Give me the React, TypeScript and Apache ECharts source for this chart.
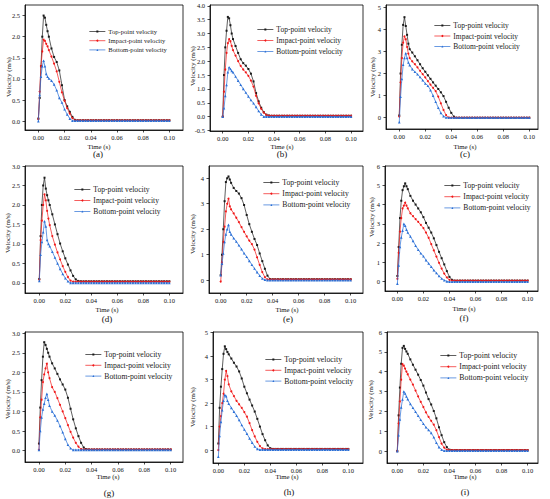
import React, { useEffect, useRef } from 'react';
import * as echarts from 'echarts';

// Shared time grid (s)
const TIMES = [0, 0.001, 0.002, 0.003, 0.004, 0.005, 0.006, 0.007, 0.008,
  0.010, 0.012, 0.014, 0.016, 0.018, 0.020, 0.022, 0.024, 0.026, 0.028, 0.030,
  0.032, 0.034, 0.036, 0.038, 0.040, 0.042, 0.044, 0.046, 0.048, 0.050,
  0.052, 0.054, 0.056, 0.058, 0.060, 0.062, 0.064, 0.066, 0.068, 0.070,
  0.072, 0.074, 0.076, 0.078, 0.080, 0.082, 0.084, 0.086, 0.088, 0.090,
  0.092, 0.094, 0.096, 0.098, 0.100];

const NAMES = ['Top-point velocity', 'Impact-point velocity', 'Bottom-point velocity'];
const PANEL_LABELS = ['(a)', '(b)', '(c)', '(d)', '(e)', '(f)', '(g)', '(h)', '(i)'];
const X_TICKS = [0, 0.02, 0.04, 0.06, 0.08, 0.1];

// Velocity values (m/s); after the listed values each curve stays at its flat tail level
const topA = [0.06, 0.55, 1.3, 2.0, 2.5, 2.45, 2.28, 2.13, 2.0, 1.72, 1.52, 1.4, 1.2, 0.85, 0.5, 0.35, 0.22, 0.1, 0.03];
const impactA = [0.05, 0.7, 1.3, 1.65, 1.93, 1.9, 1.83, 1.77, 1.68, 1.53, 1.36, 1.18, 0.93, 0.68, 0.48, 0.31, 0.18, 0.07, 0.02];
const bottomA = [0.0, 0.62, 1.05, 1.3, 1.43, 1.3, 1.12, 1.05, 1.01, 0.96, 0.87, 0.73, 0.55, 0.44, 0.28, 0.16, 0.06, 0.01];
const tailA = [0.02, 0.02, 0.01];

const topB = [0, 1.5, 2.5, 3.1, 3.6, 3.55, 3.3, 3.0, 2.8, 2.55, 2.3, 2.07, 1.93, 1.84, 1.72, 1.55, 1.27, 0.85, 0.55, 0.32, 0.16, 0.07, 0.04];
const impactB = [0, 0.9, 1.7, 2.3, 2.65, 2.8, 2.72, 2.55, 2.4, 2.2, 2.0, 1.83, 1.7, 1.6, 1.47, 1.3, 1.08, 0.75, 0.48, 0.28, 0.14, 0.06, 0.03];
const bottomB = [0, 0.3, 0.75, 1.14, 1.6, 1.78, 1.72, 1.65, 1.6, 1.45, 1.3, 1.15, 1.0, 0.87, 0.73, 0.6, 0.48, 0.35, 0.2, 0.08, 0.0];
const tailB = [0.03, 0.03, 0.0];

const topC = [0.1, 2.0, 3.3, 4.2, 4.55, 4.15, 3.75, 3.35, 3.1, 2.95, 2.78, 2.6, 2.42, 2.24, 2.08, 1.92, 1.76, 1.6, 1.45, 1.3, 1.15, 0.98, 0.72, 0.45, 0.22, 0.05, 0.0];
const impactC = [0.05, 1.6, 2.7, 3.4, 3.68, 3.55, 3.2, 2.9, 2.7, 2.55, 2.42, 2.28, 2.12, 1.97, 1.82, 1.66, 1.5, 1.35, 1.2, 0.95, 0.65, 0.35, 0.12, 0.01];
const bottomC = [-0.2, 0.95, 1.75, 2.4, 2.7, 2.92, 2.7, 2.5, 2.38, 2.2, 2.08, 1.97, 1.84, 1.7, 1.55, 1.45, 1.25, 1.0, 0.72, 0.45, 0.22, 0.07, 0.01];
const tailC = [0.0, 0.0, 0.0];

const topD = [0.1, 1.2, 2.0, 2.5, 2.7, 2.42, 2.25, 2.12, 2.0, 1.76, 1.5, 1.25, 1.01, 0.81, 0.63, 0.47, 0.32, 0.18, 0.09, 0.05];
const impactD = [0.08, 1.1, 1.6, 2.0, 2.27, 2.12, 1.85, 1.65, 1.48, 1.2, 0.98, 0.78, 0.6, 0.43, 0.28, 0.15, 0.06, 0.03];
const bottomD = [0.05, 0.72, 1.05, 1.3, 1.58, 1.45, 1.1, 1.0, 0.94, 0.8, 0.65, 0.5, 0.36, 0.23, 0.12, 0.04, 0.0];
const tailD = [0.04, 0.03, 0.0];

const topE = [0.2, 1.0, 2.0, 3.1, 3.85, 4.0, 4.07, 3.95, 3.82, 3.62, 3.5, 3.4, 3.22, 2.95, 2.56, 2.2, 1.9, 1.62, 1.38, 1.05, 0.75, 0.45, 0.18, 0.05];
const impactE = [-0.05, 0.7, 1.5, 2.1, 2.7, 3.0, 3.2, 2.9, 2.78, 2.62, 2.45, 2.28, 2.08, 1.9, 1.72, 1.55, 1.42, 1.2, 0.9, 0.6, 0.32, 0.12, 0.03];
const bottomE = [0.2, 0.65, 1.05, 1.5, 1.8, 2.0, 2.17, 1.9, 1.8, 1.65, 1.52, 1.37, 1.22, 1.06, 0.92, 0.76, 0.61, 0.46, 0.32, 0.18, 0.07, 0.02];
const tailE = [0.04, 0.03, 0.0];

const topF = [0.3, 1.8, 3.3, 4.2, 4.75, 4.95, 5.1, 4.95, 4.8, 4.45, 4.2, 4.0, 3.8, 3.6, 3.35, 3.05, 2.8, 2.55, 2.25, 1.9, 1.55, 1.22, 0.9, 0.55, 0.25, 0.1, 0.06];
const impactF = [0.15, 1.5, 2.6, 3.3, 3.8, 3.95, 4.1, 3.95, 3.8, 3.55, 3.4, 3.25, 3.1, 2.95, 2.78, 2.55, 2.28, 1.95, 1.62, 1.3, 0.98, 0.68, 0.42, 0.22, 0.1, 0.06];
const bottomF = [-0.1, 0.85, 1.8, 2.3, 2.65, 3.0, 2.9, 2.7, 2.55, 2.35, 2.12, 1.87, 1.66, 1.48, 1.32, 1.12, 0.95, 0.78, 0.6, 0.45, 0.3, 0.17, 0.08, 0.02, 0.0];
const tailF = [0.06, 0.06, 0.0];

const topG = [0.18, 1.1, 1.8, 2.4, 2.77, 2.7, 2.6, 2.5, 2.4, 2.23, 2.1, 1.96, 1.82, 1.69, 1.56, 1.35, 1.07, 0.8, 0.57, 0.37, 0.2, 0.08, 0.04];
const impactG = [0.02, 0.85, 1.3, 1.75, 1.95, 2.1, 2.22, 2.0, 1.85, 1.62, 1.5, 1.34, 1.17, 1.0, 0.83, 0.65, 0.48, 0.33, 0.2, 0.1, 0.04];
const bottomG = [0.02, 0.5, 0.85, 1.05, 1.2, 1.35, 1.45, 1.3, 1.15, 1.0, 0.9, 0.77, 0.63, 0.47, 0.3, 0.15, 0.06, 0.02];
const tailG = [0.03, 0.03, 0.02];

const topH = [0.28, 1.8, 2.7, 3.45, 4.1, 4.42, 4.3, 4.18, 4.08, 3.9, 3.72, 3.56, 3.35, 3.05, 2.7, 2.42, 2.15, 1.9, 1.64, 1.33, 1.0, 0.68, 0.42, 0.2, 0.08, 0.05];
const impactH = [0.0, 1.0, 1.45, 2.0, 2.4, 3.0, 3.37, 3.15, 2.8, 2.5, 2.3, 2.1, 1.95, 1.8, 1.62, 1.42, 1.15, 0.85, 0.58, 0.35, 0.17, 0.07, 0.04];
const bottomH = [-0.28, 0.6, 1.2, 1.7, 2.1, 2.35, 2.3, 2.1, 1.98, 1.8, 1.64, 1.47, 1.28, 1.07, 0.88, 0.7, 0.5, 0.32, 0.15, 0.05, 0.02];
const tailH = [0.05, 0.04, 0.02];

const topI = [0.0, 1.8, 3.2, 4.4, 5.2, 5.3, 5.15, 5.02, 4.9, 4.62, 4.35, 4.1, 3.85, 3.58, 3.3, 2.95, 2.62, 2.35, 2.02, 1.65, 1.2, 0.8, 0.45, 0.2, 0.07, 0.05];
const impactI = [0, 1.4, 2.5, 3.6, 4.38, 4.3, 4.15, 4.0, 3.87, 3.6, 3.35, 3.05, 2.75, 2.48, 2.22, 1.95, 1.72, 1.52, 1.33, 1.05, 0.7, 0.38, 0.17, 0.07, 0.05];
const bottomI = [0, 0.8, 1.6, 2.2, 2.6, 3.0, 2.9, 2.75, 2.62, 2.38, 2.18, 1.98, 1.78, 1.58, 1.38, 1.2, 1.07, 0.92, 0.7, 0.42, 0.2, 0.07, 0.02];
const tailI = [0.05, 0.05, 0.02];

const SERIES_VALUES = [
  [topA, impactA, bottomA, tailA], [topB, impactB, bottomB, tailB], [topC, impactC, bottomC, tailC],
  [topD, impactD, bottomD, tailD], [topE, impactE, bottomE, tailE], [topF, impactF, bottomF, tailF],
  [topG, impactG, bottomG, tailG], [topH, impactH, bottomH, tailH], [topI, impactI, bottomI, tailI],
];

// Y-axis tick labels per panel
const Y_TICKS = [
  [0, 0.5, 1, 1.5, 2, 2.5],
  [-0.5, 0, 0.5, 1, 1.5, 2, 2.5, 3, 3.5, 4],
  [0, 1, 2, 3, 4, 5],
  [0, 0.5, 1, 1.5, 2, 2.5, 3],
  [0, 1, 2, 3, 4],
  [0, 1, 2, 3, 4, 5, 6],
  [0, 0.5, 1, 1.5, 2, 2.5, 3],
  [0, 1, 2, 3, 4, 5],
  [0, 1, 2, 3, 4, 5, 6],
];
const Y_DECIMALS = [1, 1, 0, 1, 0, 0, 1, 0, 0];

// Layout (pixels) and axis ranges
const LAYOUT = [
  { box: [25, 5, 183, 130], x: [-0.0102, 0.1104], y: [-0.21, 2.75], leg: [89, 28, 6.6, 2.2], yt: [9, 77], xt: [99, 146], pl: [98, 154] },
  { box: [210, 5, 363, 131], x: [-0.0099, 0.1093], y: [-0.52, 4.03], leg: [257, 25.5, 7.5, 3], yt: [193, 66], xt: [282, 146], pl: [282, 154] },
  { box: [386, 5, 538, 129], x: [-0.0102, 0.1067], y: [-0.51, 5.1], leg: [434, 21.5, 7.5, 2.5], yt: [373, 77], xt: [465, 146], pl: [465, 154] },
  { box: [25, 166, 183, 293], x: [-0.011, 0.1105], y: [-0.26, 3.0], leg: [74, 185.5, 7.6, 3], yt: [8, 233], xt: [107, 309], pl: [107, 319] },
  { box: [209, 166, 363, 293], x: [-0.009, 0.1095], y: [-0.5, 4.48], leg: [263, 178.5, 7.7, 3.2], yt: [193, 234], xt: [287, 309], pl: [288, 319] },
  { box: [385, 166, 538, 291], x: [-0.0095, 0.108], y: [-0.48, 6.0], leg: [444, 181.5, 7.6, 3.2], yt: [372, 217], xt: [464, 308], pl: [464, 318] },
  { box: [25, 332, 183, 462], x: [-0.0106, 0.1094], y: [-0.29, 3.03], leg: [85, 350.5, 7.7, 2.8], yt: [8, 399], xt: [108, 476], pl: [109, 493] },
  { box: [213, 332, 363, 463], x: [-0.0041, 0.1113], y: [-0.55, 5.03], leg: [265, 355.5, 7.8, 2.8], yt: [193, 407], xt: [287, 476], pl: [289, 492] },
  { box: [387, 332, 538, 463], x: [-0.0079, 0.108], y: [-0.6, 6.0], leg: [440, 351.5, 7.8, 3.2], yt: [371, 400], xt: [465, 476], pl: [465, 492] },
];

const COLORS = ['#1a1a1a', '#f01818', '#2a6fd6'];
const SYMBOLS = ['rect', 'circle', 'triangle'];
const FONT = "'Liberation Serif', 'Times New Roman', serif";

export default function App() {
  const ref = useRef<HTMLDivElement>(null);
  useEffect(() => {
    if (!ref.current) return;
    const chart = echarts.init(ref.current, null, { renderer: 'svg' });
    const grid: any[] = [];
    const xAxis: any[] = [];
    const yAxis: any[] = [];
    const series: any[] = [];
    const legend: any[] = [];
    const graphic: any[] = [];

    LAYOUT.forEach((L, p) => {
      const [l, t, r, b] = L.box;
      grid.push({ left: l, top: t, width: r - l, height: b - t, show: true, borderColor: '#000', borderWidth: 0.8, backgroundColor: 'transparent' });
      xAxis.push({
        type: 'value', gridIndex: p, min: L.x[0], max: L.x[1],
        axisLine: { show: true, onZero: false, lineStyle: { color: '#000', width: 0.8 } },
        axisTick: { show: true, inside: false, length: 2.5, customValues: X_TICKS, lineStyle: { color: '#000', width: 0.7 } },
        axisLabel: { customValues: X_TICKS, margin: 4, fontSize: 6.5, fontFamily: FONT, color: '#111', formatter: (v: number) => v.toFixed(2) },
        splitLine: { show: false },
      });
      const dec = Y_DECIMALS[p];
      yAxis.push({
        type: 'value', gridIndex: p, min: L.y[0], max: L.y[1],
        axisLine: { show: true, onZero: false, lineStyle: { color: '#000', width: 0.8 } },
        axisTick: { show: true, inside: false, length: 2.5, customValues: Y_TICKS[p], lineStyle: { color: '#000', width: 0.7 } },
        axisLabel: { customValues: Y_TICKS[p], margin: 5, fontSize: 6.5, fontFamily: FONT, color: '#111', formatter: (v: number) => v.toFixed(dec) },
        splitLine: { show: false },
      });
      const vals = SERIES_VALUES[p];
      for (let s = 0; s < 3; s++) {
        const arr = vals[s] as number[];
        const tail = (vals[3] as number[])[s];
        series.push({
          type: 'line', name: NAMES[s], xAxisIndex: p, yAxisIndex: p,
          data: TIMES.map((tm, i) => [tm, i < arr.length ? arr[i] : tail]),
          symbol: SYMBOLS[s], symbolSize: s === 2 ? 2.6 : 2, showSymbol: true,
          lineStyle: { color: COLORS[s], width: 0.7 },
          itemStyle: { color: COLORS[s] },
          emphasis: { disabled: true }, z: 2 + s,
        });
      }
      legend.push({
        orient: 'vertical', left: L.leg[0], top: L.leg[1], padding: 0,
        itemWidth: 16, itemHeight: 2.5, itemGap: L.leg[3], selectedMode: false,
        lineStyle: { width: 0.7 },
        textStyle: { fontSize: L.leg[2], fontFamily: FONT, fontWeight: 'normal', color: '#222', padding: [0, 0, 0, -2] },
        data: NAMES,
      });
      graphic.push({
        type: 'text', x: L.yt[0], y: L.yt[1], rotation: Math.PI / 2,
        style: { text: 'Velocity (m/s)', font: `7px ${FONT}`, fill: '#111', textAlign: 'center', textVerticalAlign: 'middle' },
      });
      graphic.push({
        type: 'text', x: L.xt[0], y: L.xt[1],
        style: { text: 'Time (s)', font: `6.8px ${FONT}`, fill: '#111', textAlign: 'center', textVerticalAlign: 'middle' },
      });
      graphic.push({
        type: 'text', x: L.pl[0], y: L.pl[1],
        style: { text: PANEL_LABELS[p], font: `9px ${FONT}`, fill: '#111', textAlign: 'center', textVerticalAlign: 'middle' },
      });
    });

    chart.setOption({
      animation: false,
      backgroundColor: '#fff',
      grid, xAxis, yAxis, series, legend, graphic,
    });
    return () => chart.dispose();
  }, []);
  return <div ref={ref} style={{ position: 'absolute', left: 0, top: 0, width: 550, height: 499, background: '#fff' }} />;
}
